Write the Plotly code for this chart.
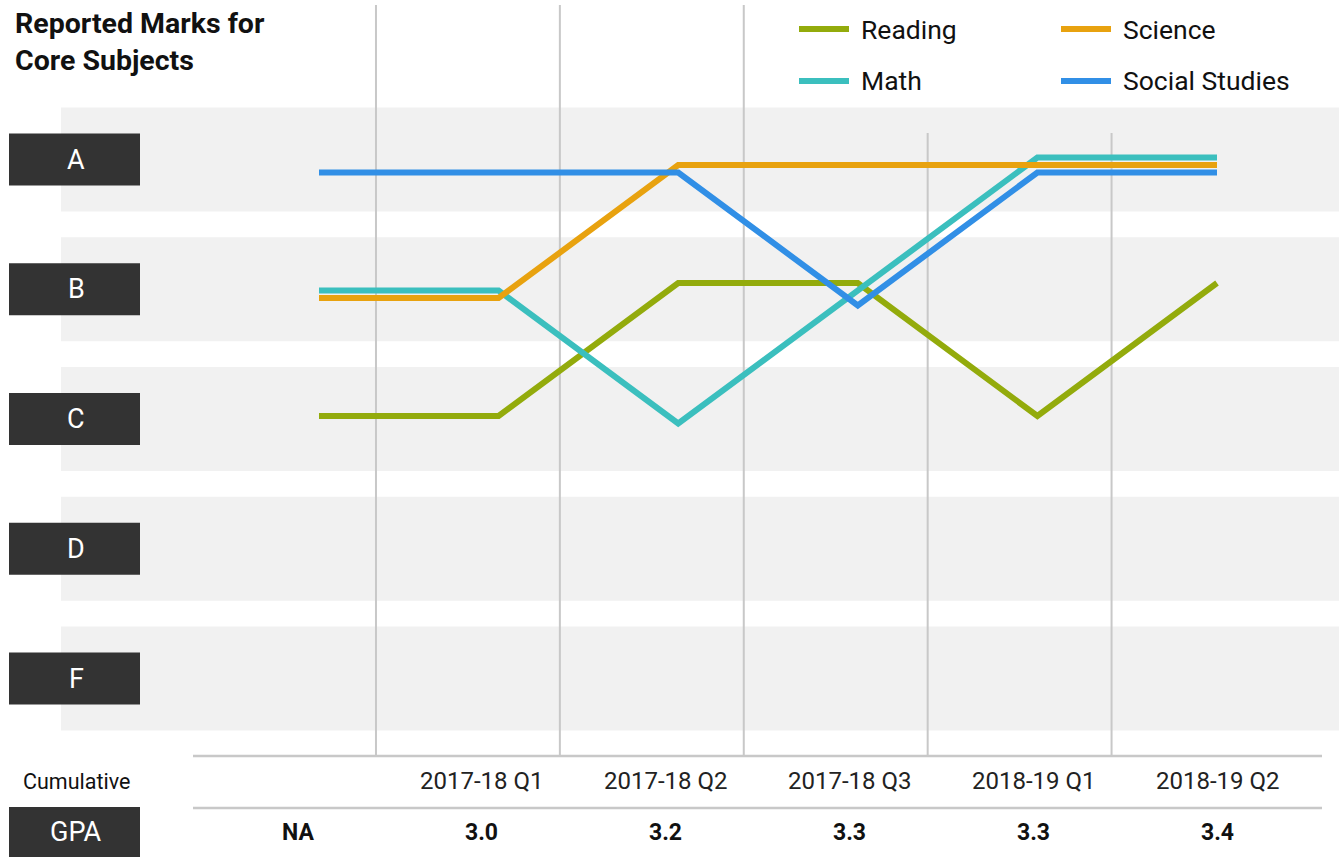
import plotly.graph_objects as go

# ---------------- data ----------------
periods = ["", "2017-18 Q1", "2017-18 Q2", "2017-18 Q3", "2018-19 Q1", "2018-19 Q2"]
gpa = ["NA", "3.0", "3.2", "3.3", "3.3", "3.4"]
grades = ["A", "B", "C", "D", "F"]
grade_points = [4, 3, 2, 1, 0]

subjects = ["Reading", "Math", "Science", "Social Studies"]
reading = ["C", "C", "B", "B", "C", "B"]
math = ["B", "B", "C", "B", "A", "A"]
science = ["B", "B", "A", "A", "A", "A"]
social = ["A", "A", "A", "B", "A", "A"]
marks = [reading, math, science, social]

# ---------------- style ----------------
W, H = 1339, 857
FONT = "Roboto"
colors = {"Reading": "#93ab0c", "Math": "#3bbfbe", "Science": "#e8a20f", "Social Studies": "#318fe6"}
# small vertical separation between overlapping subject lines (pixels)
sep_px = {"Reading": -11.25, "Math": -3.75, "Science": 3.75, "Social Studies": 11.25}
band_color = "#f1f1f1"
box_color = "#333333"
rule_color = "#c8c8c8"

gp = dict(zip(grades, grade_points))

def px_x(p):
    return p / W

def px_y(p):
    return 1 - p / H

fig = go.Figure()

# subject lines: x index -> pixel 319 + 179.6*i ; grade -> pixel 161.25 + 133*(4-g)
line_px_per_grade = 133.0
for name, vals in zip(subjects, marks):
    off = -sep_px[name] / line_px_per_grade
    fig.add_trace(go.Scatter(
        x=list(range(len(vals))),
        y=[gp[v] + off for v in vals],
        mode="lines",
        name=name,
        line=dict(color=colors[name], width=6),
        xaxis="x", yaxis="y2",
        showlegend=False,
        hoverinfo="skip",
    ))

shapes = []
annotations = []

# grade bands and label boxes (on band axis y)
for g, v in zip(grades, grade_points):
    shapes.append(dict(type="rect", xref="paper", yref="y", x0=px_x(61), x1=1,
                       y0=v - 0.4, y1=v + 0.4, fillcolor=band_color, line=dict(width=0), layer="below"))
    shapes.append(dict(type="rect", xref="paper", yref="y", x0=px_x(9), x1=px_x(140),
                       y0=v - 0.2, y1=v + 0.2, fillcolor=box_color, line=dict(width=0), layer="below"))
    annotations.append(dict(text=g, xref="paper", yref="y", x=px_x(76), y=v, showarrow=False,
                            xanchor="center", yanchor="middle",
                            font=dict(family=FONT, size=27, color="white")))

# vertical separators between columns (column axis x2)
for j in range(len(periods) - 1):
    xpos = j + 0.424
    top = 5 if (298 + 183.9 * xpos) < 790 else 133
    shapes.append(dict(type="line", xref="x2", yref="paper", x0=xpos, x1=xpos,
                       y0=px_y(755), y1=px_y(top), line=dict(color=rule_color, width=2), layer="below"))

# horizontal rules of the footer table
for yp in (756, 808):
    shapes.append(dict(type="line", xref="paper", yref="paper", x0=px_x(193), x1=px_x(1322),
                       y0=px_y(yp), y1=px_y(yp), line=dict(color=rule_color, width=2.5)))

# GPA box
shapes.append(dict(type="rect", xref="paper", yref="paper", x0=px_x(9), x1=px_x(140),
                   y0=px_y(857), y1=px_y(807), fillcolor=box_color, line=dict(width=0)))
annotations.append(dict(text="GPA", xref="paper", yref="paper", x=px_x(76), y=px_y(832),
                        showarrow=False, xanchor="center", yanchor="middle",
                        font=dict(family=FONT, size=27, color="white")))
annotations.append(dict(text="Cumulative", xref="paper", yref="paper", x=px_x(76), y=px_y(781),
                        showarrow=False, xanchor="center", yanchor="middle",
                        font=dict(family=FONT, size=21.5, color="#111111")))

# period labels and GPA values
for j, (p, g) in enumerate(zip(periods, gpa)):
    if p:
        annotations.append(dict(text=p, xref="x2", yref="paper", x=j, y=px_y(781), showarrow=False,
                                xanchor="center", yanchor="middle",
                                font=dict(family=FONT, size=24, color="#222222")))
    annotations.append(dict(text="<b>%s</b>" % g, xref="x2", yref="paper", x=j, y=px_y(832),
                            showarrow=False, xanchor="center", yanchor="middle",
                            font=dict(family=FONT, size=23, color="#111111")))

# title
annotations.append(dict(text="<b>Reported Marks for<br>Core Subjects</b>", xref="paper", yref="paper",
                        x=px_x(13), y=px_y(5), showarrow=False, xanchor="left", yanchor="top",
                        align="left", font=dict(family=FONT, size=28.5, color="#111111")))

# legend (two columns, drawn from subject names and colours)
leg_pos = {"Reading": (799, 29), "Science": (1061, 29), "Math": (799, 81), "Social Studies": (1061, 81)}
for name in subjects:
    lx, ly = leg_pos[name]
    shapes.append(dict(type="line", xref="paper", yref="paper", x0=px_x(lx), x1=px_x(lx + 50),
                       y0=px_y(ly), y1=px_y(ly), line=dict(color=colors[name], width=6)))
    annotations.append(dict(text=name, xref="paper", yref="paper", x=px_x(lx + 60), y=px_y(ly),
                            showarrow=False, xanchor="left", yanchor="middle",
                            font=dict(family=FONT, size=26.5, color="#111111")))

# axis ranges so that indices land on the right pixels
x_lines0, x_lines_step = 319.0, 179.6
x_cols0, x_cols_step = 298.0, 183.9
band_center_F, band_step = 678.5, 129.75
line_center_A = 161.25

fig.update_layout(
    width=W, height=H,
    margin=dict(l=0, r=0, t=0, b=0),
    paper_bgcolor="white", plot_bgcolor="rgba(0,0,0,0)",
    shapes=shapes, annotations=annotations,
    xaxis=dict(range=[-x_lines0 / x_lines_step, (W - x_lines0) / x_lines_step],
               visible=False, fixedrange=True),
    xaxis2=dict(range=[-x_cols0 / x_cols_step, (W - x_cols0) / x_cols_step],
                overlaying="x", visible=False, fixedrange=True),
    yaxis=dict(range=[(band_center_F - H) / band_step, band_center_F / band_step],
               visible=False, fixedrange=True),
    yaxis2=dict(range=[4 - (H - line_center_A) / line_px_per_grade, 4 + line_center_A / line_px_per_grade],
                overlaying="y", visible=False, fixedrange=True),
    showlegend=False,
)

fig.write_html("out.html", config={"displayModeBar": False},
               post_script="document.body.style.margin='0';document.body.style.overflow='hidden';")
